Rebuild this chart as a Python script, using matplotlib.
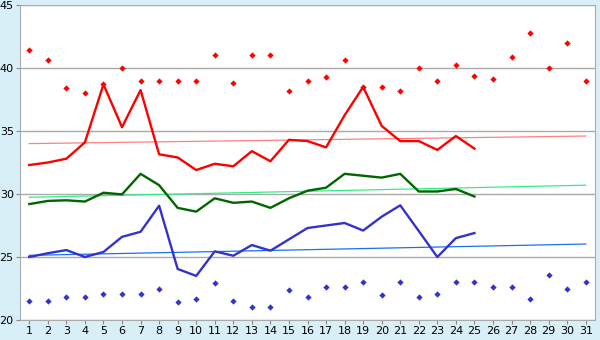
import numpy as np
import matplotlib
matplotlib.use('Agg')
import matplotlib.pyplot as plt

days = np.arange(1, 32)
days_line = np.arange(1, 26)

red_pts = [41.4, 40.6, 38.4, 38.0, 38.7, 40.0, 39.0, 39.0, 39.0, 39.0,
           41.0, 38.8, 41.0, 41.0, 38.2, 39.0, 39.3, 40.6, 38.5, 38.5,
           38.2, 40.0, 39.0, 40.2, 39.4, 39.1, 40.85, 42.8, 40.0, 42.0, 39.0]
blue_pts = [21.5, 21.5, 21.8, 21.8, 22.05, 22.05, 22.05, 22.5, 21.4, 21.65,
            22.9, 21.5, 21.0, 21.0, 22.4, 21.8, 22.6, 22.6, 23.0, 22.0,
            23.0, 21.8, 22.1, 23.0, 23.0, 22.6, 22.6, 21.65, 23.55, 22.5, 23.0]

red_line = [32.3, 32.5, 32.8, 34.1, 38.7, 35.3, 38.25, 33.15, 32.9, 31.9,
            32.4, 32.2, 33.4, 32.6, 34.3, 34.2, 33.7, 36.25, 38.5, 35.4,
            34.2, 34.2, 33.5, 34.6, 33.6]
green_line = [29.2, 29.45, 29.5, 29.4, 30.1, 29.97, 31.6, 30.7, 28.9, 28.6,
              29.66, 29.3, 29.4, 28.9, 29.66, 30.26, 30.5, 31.6, 31.45, 31.3,
              31.6, 30.2, 30.2, 30.4, 29.8]
blue_line = [25.0, 25.3, 25.55, 25.0, 25.4, 26.6, 27.0, 29.07, 24.05, 23.5,
             25.45, 25.1, 25.95, 25.5, 26.4, 27.3, 27.5, 27.7, 27.1, 28.2,
             29.1, 27.06, 25.0, 26.5, 26.9]

# trend lines, start and end values (day 1 and day 31)
red_trend = [34.0, 34.6]
green_trend = [29.74, 30.7]
blue_trend = [25.13, 26.03]

fig = plt.figure(figsize=(6, 3.4), dpi=100, facecolor='#d9eff7')
ax = fig.add_axes([20 / 600, 20 / 340, 575 / 600, 315 / 340])
ax.set_facecolor('white')

ax.plot([1, 31], red_trend, color='#ff8080', lw=0.9, zorder=2)
ax.plot([1, 31], green_trend, color='#33ee88', lw=0.9, zorder=2)
ax.plot([1, 31], blue_trend, color='#1a70f0', lw=0.9, zorder=2)

ax.plot(days_line, red_line, color='#ff0000', lw=1.7, zorder=3)
ax.plot(days_line, green_line, color='#006600', lw=1.7, zorder=3)
ax.plot(days_line, blue_line, color='#3333cc', lw=1.7, zorder=3)

ax.plot(days, red_pts, 'D', color='#ff0000', ms=3.2, mew=0, zorder=4)
ax.plot(days, blue_pts, 'D', color='#3333cc', ms=3.2, mew=0, zorder=4)

ax.set_xlim(0.5, 31.5)
ax.set_ylim(20, 45)
ax.set_xticks(days)
ax.set_yticks([20, 25, 30, 35, 40, 45])
ax.yaxis.grid(True, color='#aaaaaa', lw=1)
ax.set_axisbelow(True)
for s in ax.spines.values():
    s.set_color('#aaaaaa')
ax.spines['top'].set_visible(False)
ax.tick_params(colors='#888888', labelcolor='black', labelsize=8, length=3, pad=1.5)

fig.savefig('out.png', dpi=100, facecolor=fig.get_facecolor())
